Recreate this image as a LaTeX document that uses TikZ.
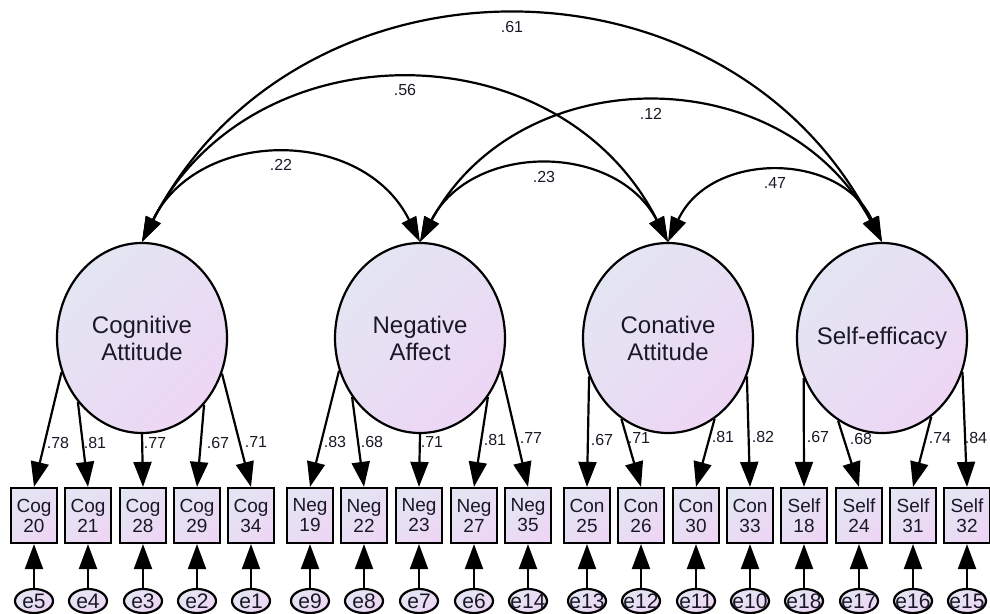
\documentclass[tikz,border=0pt]{standalone}
\usepackage{fontspec}
\setmainfont{Liberation Sans}
\usepackage{tikz}
\usetikzlibrary{shapes.geometric,arrows.meta}

\begin{document}
\begin{tikzpicture}[x=0.5pt,y=-0.5pt,
  latent/.style={ellipse,draw=cline,line width=1.1pt,top color=ctop,bottom color=cbot,shading angle=45,minimum width=85pt,minimum height=95pt,inner xsep=-6pt,inner ysep=0pt,align=center,text=ctext,font=\fontsize{12}{13.5}\selectfont},
  item/.style={rectangle,draw=cline,line width=1.1pt,top color=ctop,bottom color=cbot,shading angle=45,minimum width=23pt,minimum height=27.5pt,inner sep=0pt,align=center,text=ctext,font=\fontsize{9.5}{10}\selectfont},
  err/.style={ellipse,draw=cline,line width=1.1pt,top color=ctop,bottom color=cbot,shading angle=45,minimum width=19pt,minimum height=12pt,inner xsep=-5pt,inner ysep=-3pt,text=ctext,font=\fontsize{10.5}{12}\selectfont},
  load/.style={line width=1.1pt,-{Triangle[length=12.5pt,width=9pt]}},
  cov/.style={line width=1.1pt,{Triangle[length=12.5pt,width=8pt]}-{Triangle[length=12.5pt,width=8pt]}},
  coef/.style={inner sep=1.5pt,text=ctext,font=\fontsize{8}{9}\selectfont}]
%
\useasboundingbox (0,0) rectangle (990,614);
%
\definecolor{cline}{rgb}{0.0,0.0,0.0}
\definecolor{ctop}{rgb}{0.89,0.90,0.95}
\definecolor{cbot}{rgb}{0.93,0.84,0.96}
\definecolor{ctext}{rgb}{0.1,0.1,0.15}
%
\node[latent] (cog) at (142,338) {Cognitive\\Attitude};
\node[latent] (neg) at (420,338) {Negative\\Affect};
\node[latent] (con) at (668,338) {Conative\\Attitude};
\node[latent] (self) at (882,338) {Self-efficacy};
%
\node[item] (cog20) at (34,515.5) {Cog\\20};
\node[item] (cog21) at (88,515.5) {Cog\\21};
\node[item] (cog28) at (143,515.5) {Cog\\28};
\node[item] (cog29) at (197,515.5) {Cog\\29};
\node[item] (cog34) at (251,515.5) {Cog\\34};
\node[item] (neg19) at (310,515.5) {Neg\\19};
\node[item] (neg22) at (364,515.5) {Neg\\22};
\node[item] (neg23) at (419,515.5) {Neg\\23};
\node[item] (neg27) at (474,515.5) {Neg\\27};
\node[item] (neg35) at (528,515.5) {Neg\\35};
\node[item] (con25) at (587,515.5) {Con\\25};
\node[item] (con26) at (641,515.5) {Con\\26};
\node[item] (con30) at (696,515.5) {Con\\30};
\node[item] (con33) at (750,515.5) {Con\\33};
\node[item] (self18) at (804,515.5) {Self\\18};
\node[item] (self24) at (859,515.5) {Self\\24};
\node[item] (self31) at (913,515.5) {Self\\31};
\node[item] (self32) at (967,515.5) {Self\\32};
%
\node[err] (e5) at (34,601) {e5};
\node[err] (e4) at (88,601) {e4};
\node[err] (e3) at (143,601) {e3};
\node[err] (e2) at (197,601) {e2};
\node[err] (e1) at (251,601) {e1};
\node[err] (e9) at (310,601) {e9};
\node[err] (e8) at (364,601) {e8};
\node[err] (e7) at (419,601) {e7};
\node[err] (e6) at (474,601) {e6};
\node[err] (e14) at (528,601) {e14};
\node[err] (e13) at (587,601) {e13};
\node[err] (e12) at (641,601) {e12};
\node[err] (e11) at (696,601) {e11};
\node[err] (e10) at (750,601) {e10};
\node[err] (e18) at (804,601) {e18};
\node[err] (e17) at (859,601) {e17};
\node[err] (e16) at (913,601) {e16};
\node[err] (e15) at (967,601) {e15};
%
\draw[load] (cog.-157) -- (cog20.north);
\draw[load] (cog.-135) -- (cog21.north);
\draw[load] (cog.-90) -- (cog28.north);
\draw[load] (cog.-47) -- (cog29.north);
\draw[load] (cog.-24) -- (cog34.north);
\draw[load] (neg.-158) -- (neg19.north);
\draw[load] (neg.-139) -- (neg22.north);
\draw[load] (neg.-90) -- (neg23.north);
\draw[load] (neg.-41) -- (neg27.north);
\draw[load] (neg.-22) -- (neg35.north);
\draw[load] (con.-154) -- (con25.north);
\draw[load] (con.-120) -- (con26.north);
\draw[load] (con.-60) -- (con30.north);
\draw[load] (con.-26) -- (con33.north);
\draw[load] (self.-153) -- (self18.north);
\draw[load] (self.-118) -- (self24.north);
\draw[load] (self.-58) -- (self31.north);
\draw[load] (self.-23) -- (self32.north);
%
\node[coef] (w20) at (58,443) {.78};
\node[coef] (w21) at (95,443) {.81};
\node[coef] (w28) at (155,443) {.77};
\node[coef] (w29) at (218,443) {.67};
\node[coef] (w34) at (256,442) {.71};
\node[coef] (w19) at (335,442) {.83};
\node[coef] (w22) at (372,442) {.68};
\node[coef] (w23) at (432,442) {.71};
\node[coef] (w27) at (495,440) {.81};
\node[coef] (w35) at (531,438) {.77};
\node[coef] (w25) at (602,440) {.67};
\node[coef] (w26) at (639,438) {.71};
\node[coef] (w30) at (723,437) {.81};
\node[coef] (w33) at (763,437) {.82};
\node[coef] (w18) at (818,437) {.67};
\node[coef] (w24) at (861,439) {.68};
\node[coef] (w31) at (940,438) {.74};
\node[coef] (w32) at (976,438) {.84};
%
\draw[load] (e5) -- (cog20);
\draw[load] (e4) -- (cog21);
\draw[load] (e3) -- (cog28);
\draw[load] (e2) -- (cog29);
\draw[load] (e1) -- (cog34);
\draw[load] (e9) -- (neg19);
\draw[load] (e8) -- (neg22);
\draw[load] (e7) -- (neg23);
\draw[load] (e6) -- (neg27);
\draw[load] (e14) -- (neg35);
\draw[load] (e13) -- (con25);
\draw[load] (e12) -- (con26);
\draw[load] (e11) -- (con30);
\draw[load] (e10) -- (con33);
\draw[load] (e18) -- (self18);
\draw[load] (e17) -- (self24);
\draw[load] (e16) -- (self31);
\draw[load] (e15) -- (self32);
%
\draw[cov] (cog.north) .. controls +(57,-115) and +(-57,-115) .. (neg.north) node[coef,midway,below] (r22) {.22};
\draw[cov] (cog.north) .. controls +(109,-215) and +(-109,-215) .. (con.north) node[coef,midway,below] (r56) {.56};
\draw[cov] (cog.north) .. controls +(155,-300) and +(-155,-300) .. (self.north) node[coef,midway,below] (r61) {.61};
\draw[cov] (neg.north) .. controls +(99,-184) and +(-99,-184) .. (self.north) node[coef,midway,below] (r12) {.12};
\draw[cov] (neg.north) .. controls +(52,-100) and +(-52,-100) .. (con.north) node[coef,midway,below] (r23) {.23};
\draw[cov] (con.north) .. controls +(42,-91) and +(-42,-91) .. (self.north) node[coef,midway,below] (r47) {.47};
%
\end{tikzpicture}
\end{document}
